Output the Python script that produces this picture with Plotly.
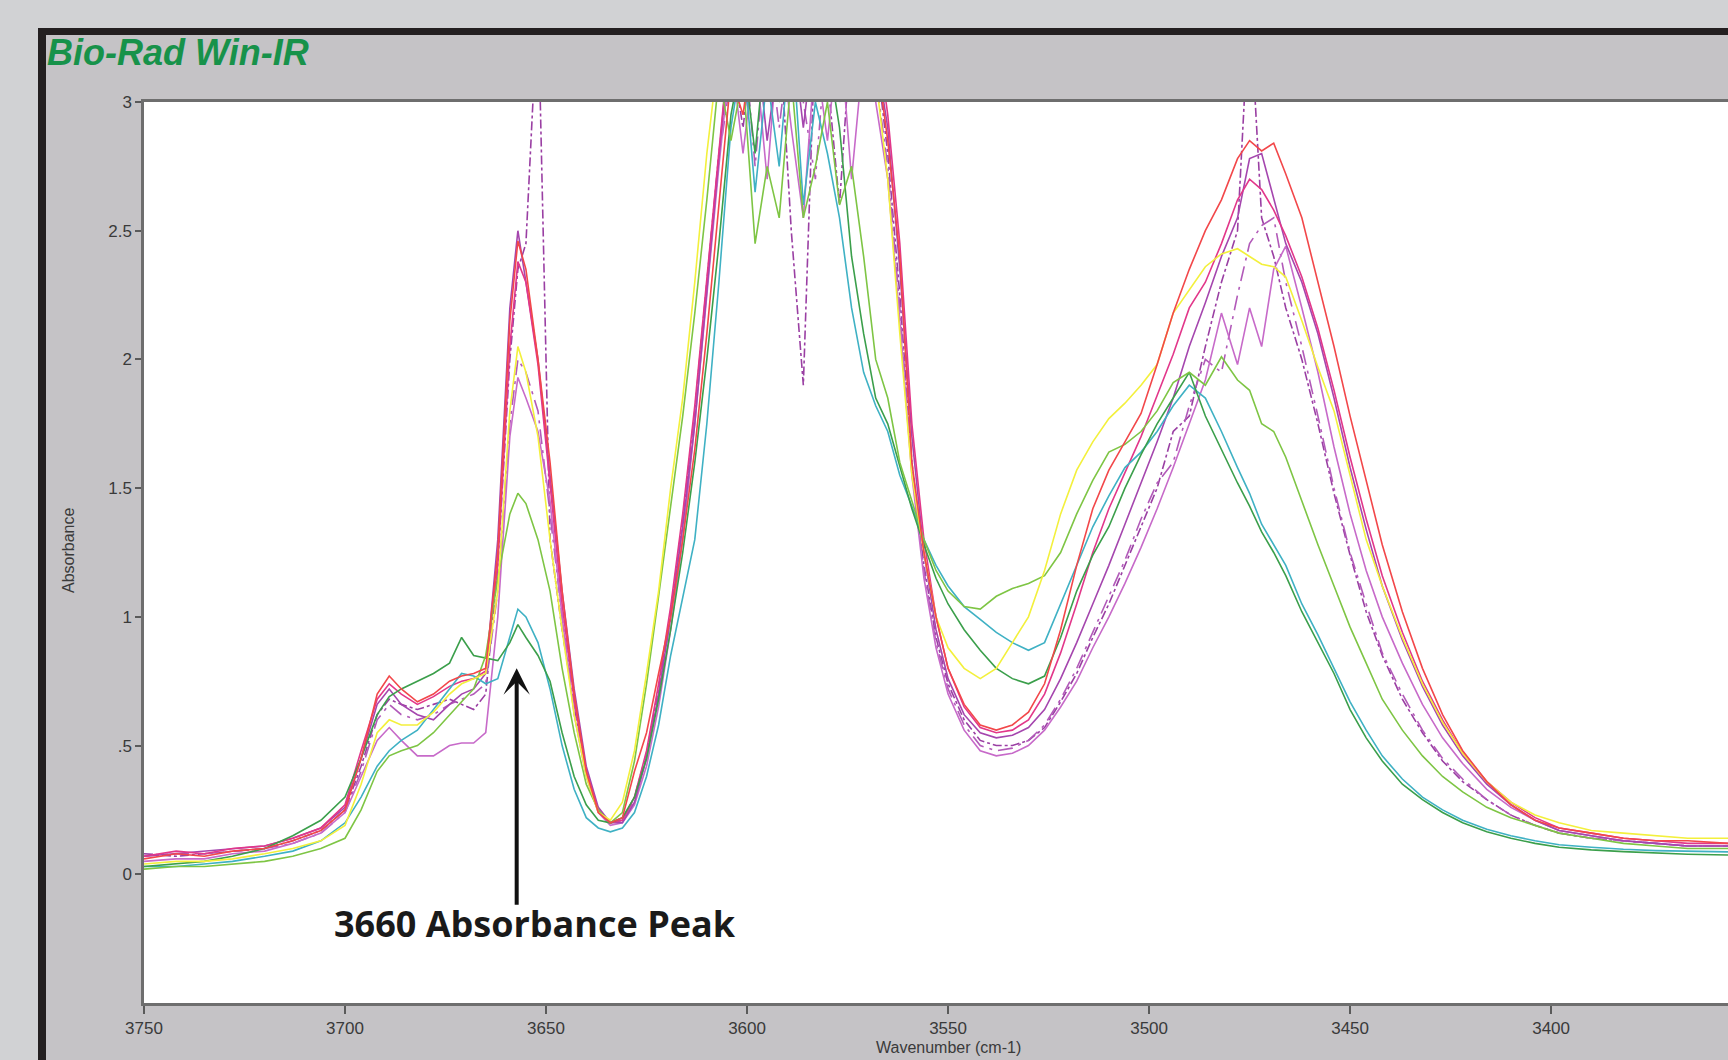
import plotly.graph_objects as go

# ---------------- data ----------------
wavenumber = [3750, 3742, 3735, 3728, 3720, 3713, 3706, 3700,
              3696, 3692, 3689, 3686, 3682, 3678, 3674, 3671, 3668, 3665,
              3662, 3659, 3657, 3655, 3652, 3649, 3646, 3643, 3640, 3637,
              3634, 3631, 3628, 3625, 3622, 3619, 3616, 3613, 3610, 3607,
              3604, 3601, 3598, 3595, 3592, 3589, 3586, 3583, 3580, 3577,
              3574, 3571, 3568, 3565, 3562, 3559, 3556, 3553, 3550, 3546,
              3542, 3538, 3534, 3530, 3526, 3522, 3518, 3514, 3510, 3506,
              3502, 3498, 3494, 3490, 3486, 3482, 3478, 3475, 3472, 3469,
              3466, 3462, 3458, 3454, 3450, 3446, 3442, 3437, 3432, 3427,
              3422, 3416, 3410, 3404, 3398, 3390, 3382, 3374, 3366, 3356]

red = [0.06, 0.08, 0.07, 0.09, 0.10, 0.13, 0.17, 0.25,
       0.45, 0.70, 0.77, 0.72, 0.67, 0.70, 0.75, 0.77, 0.78, 0.80,
       1.25, 2.15, 2.46, 2.35, 2.00, 1.60, 1.10, 0.70, 0.40, 0.24,
       0.20, 0.22, 0.40, 0.55, 0.78, 1.00, 1.30, 1.65, 2.10, 2.60,
       3.10, 2.95, 3.30, 3.10, 3.30, 3.20, 3.30, 3.10, 3.30, 3.20,
       3.30, 3.20, 3.20, 2.85, 2.40, 1.60, 1.25, 1.00, 0.80, 0.66,
       0.58, 0.56, 0.58, 0.63, 0.74, 0.95, 1.20, 1.42, 1.57, 1.68,
       1.79, 1.98, 2.18, 2.35, 2.50, 2.62, 2.78, 2.85, 2.81, 2.84,
       2.72, 2.55, 2.30, 2.05, 1.78, 1.53, 1.28, 1.02, 0.80, 0.62,
       0.48, 0.36, 0.27, 0.21, 0.18, 0.16, 0.14, 0.13, 0.13, 0.12]

yellow = [0.04, 0.05, 0.05, 0.06, 0.08, 0.10, 0.13, 0.19,
          0.35, 0.55, 0.60, 0.58, 0.58, 0.63, 0.70, 0.74, 0.76, 0.78,
          1.10, 1.80, 2.05, 1.95, 1.70, 1.30, 0.95, 0.62, 0.38, 0.24,
          0.21, 0.28, 0.48, 0.78, 1.10, 1.50, 1.85, 2.30, 2.80, 3.20,
          3.30, 3.20, 3.30, 3.20, 3.30, 3.30, 3.20, 3.30, 3.20, 3.30,
          3.20, 3.30, 3.10, 2.70, 2.10, 1.55, 1.25, 1.00, 0.88, 0.80,
          0.76, 0.80, 0.90, 1.00, 1.18, 1.40, 1.57, 1.68, 1.77, 1.83,
          1.90, 1.98, 2.18, 2.27, 2.36, 2.41, 2.43, 2.40, 2.37, 2.36,
          2.32, 2.15, 1.97, 1.80, 1.55, 1.30, 1.12, 0.92, 0.74, 0.59,
          0.47, 0.36, 0.28, 0.23, 0.20, 0.17, 0.16, 0.15, 0.14, 0.14]

light_green = [0.02, 0.03, 0.03, 0.04, 0.05, 0.07, 0.10, 0.14,
               0.25, 0.40, 0.46, 0.48, 0.50, 0.55, 0.62, 0.67, 0.72, 0.85,
               1.15, 1.40, 1.48, 1.44, 1.30, 1.10, 0.80, 0.55, 0.35, 0.25,
               0.20, 0.24, 0.44, 0.74, 1.08, 1.42, 1.78, 2.18, 2.62, 3.10,
               2.85, 3.10, 2.45, 2.75, 2.55, 3.10, 2.55, 2.75, 3.00, 2.60,
               2.75, 2.40, 2.00, 1.85, 1.60, 1.45, 1.30, 1.18, 1.10, 1.04,
               1.03, 1.08, 1.11, 1.13, 1.16, 1.25, 1.40, 1.53, 1.64, 1.67,
               1.72, 1.80, 1.91, 1.95, 1.90, 2.01, 1.92, 1.88, 1.75, 1.72,
               1.62, 1.45, 1.28, 1.12, 0.96, 0.82, 0.68, 0.56, 0.46, 0.38,
               0.32, 0.26, 0.22, 0.19, 0.16, 0.14, 0.12, 0.11, 0.10, 0.10]

dark_green = [0.03, 0.04, 0.05, 0.07, 0.10, 0.15, 0.21, 0.30,
              0.45, 0.62, 0.69, 0.72, 0.75, 0.78, 0.82, 0.92, 0.85, 0.84,
              0.83, 0.90, 0.97, 0.92, 0.85, 0.75, 0.55, 0.38, 0.27, 0.21,
              0.20, 0.22, 0.30, 0.45, 0.68, 0.95, 1.25, 1.60, 2.00, 2.45,
              2.95, 3.20, 2.80, 3.30, 3.00, 3.20, 3.30, 3.10, 3.20, 2.90,
              2.40, 2.10, 1.85, 1.75, 1.58, 1.42, 1.28, 1.15, 1.05, 0.95,
              0.87, 0.80, 0.76, 0.74, 0.77, 0.92, 1.10, 1.24, 1.35, 1.50,
              1.63, 1.75, 1.85, 1.95, 1.78, 1.65, 1.52, 1.43, 1.33, 1.25,
              1.16, 1.02, 0.90, 0.78, 0.64, 0.53, 0.44, 0.35, 0.29, 0.24,
              0.20, 0.165, 0.14, 0.12, 0.105, 0.095, 0.088, 0.082, 0.078, 0.075]

teal = [0.03, 0.03, 0.04, 0.05, 0.07, 0.09, 0.13, 0.20,
        0.30, 0.42, 0.48, 0.52, 0.56, 0.64, 0.72, 0.78, 0.77, 0.74,
        0.76, 0.92, 1.03, 1.00, 0.90, 0.72, 0.50, 0.33, 0.22, 0.18,
        0.165, 0.18, 0.24, 0.38, 0.58, 0.85, 1.08, 1.30, 1.75, 2.30,
        2.90, 3.20, 2.65, 3.10, 2.75, 3.30, 2.60, 3.00, 2.80, 2.55,
        2.20, 1.95, 1.82, 1.72, 1.55, 1.43, 1.30, 1.20, 1.12, 1.04,
        0.99, 0.94, 0.90, 0.87, 0.90, 1.05, 1.20, 1.35, 1.47, 1.58,
        1.64, 1.72, 1.82, 1.90, 1.85, 1.72, 1.58, 1.48, 1.36, 1.28,
        1.20, 1.05, 0.93, 0.80, 0.67, 0.56, 0.46, 0.37, 0.30, 0.25,
        0.21, 0.175, 0.15, 0.13, 0.115, 0.105, 0.097, 0.092, 0.089, 0.087]

orchid = [0.05, 0.06, 0.06, 0.08, 0.09, 0.12, 0.16, 0.24,
          0.38, 0.52, 0.57, 0.52, 0.46, 0.46, 0.50, 0.51, 0.51, 0.55,
          1.00, 1.70, 1.93, 1.85, 1.72, 1.45, 1.00, 0.62, 0.38, 0.24,
          0.19, 0.20, 0.27, 0.42, 0.65, 0.95, 1.30, 1.75, 2.25, 2.75,
          3.20, 2.80, 3.20, 2.70, 3.30, 2.90, 2.55, 3.20, 2.85, 3.30,
          2.70, 3.20, 3.00, 2.70, 2.15, 1.55, 1.15, 0.88, 0.70, 0.56,
          0.48, 0.46, 0.47, 0.50, 0.56, 0.65, 0.75, 0.88, 1.00, 1.13,
          1.27, 1.42, 1.58, 1.75, 1.92, 2.18, 1.98, 2.20, 2.05, 2.35,
          2.44, 2.20, 1.95, 1.66, 1.40, 1.18, 1.00, 0.82, 0.66, 0.53,
          0.43, 0.33, 0.26, 0.21, 0.17, 0.15, 0.13, 0.12, 0.11, 0.11]

purple = [0.07, 0.08, 0.09, 0.10, 0.11, 0.14, 0.18, 0.26,
          0.45, 0.66, 0.72, 0.66, 0.62, 0.60, 0.66, 0.70, 0.72, 0.78,
          1.30, 2.20, 2.50, 2.30, 2.00, 1.55, 1.10, 0.72, 0.42, 0.26,
          0.20, 0.20, 0.28, 0.45, 0.70, 1.00, 1.35, 1.75, 2.25, 2.75,
          3.30, 3.10, 3.30, 2.85, 3.20, 3.30, 2.90, 3.30, 3.00, 3.30,
          3.10, 3.30, 3.20, 2.90, 2.35, 1.70, 1.25, 0.95, 0.76, 0.62,
          0.55, 0.53, 0.54, 0.57, 0.64, 0.76, 0.90, 1.05, 1.20, 1.36,
          1.52, 1.68, 1.85, 2.05, 2.22, 2.40, 2.55, 2.78, 2.80, 2.62,
          2.45, 2.30, 2.10, 1.85, 1.58, 1.34, 1.12, 0.91, 0.73, 0.58,
          0.46, 0.35, 0.27, 0.21, 0.17, 0.15, 0.13, 0.12, 0.11, 0.11]

purple_dashdot = [0.08, 0.07, 0.08, 0.09, 0.10, 0.13, 0.17, 0.25,
                  0.42, 0.62, 0.68, 0.66, 0.64, 0.66, 0.68, 0.66, 0.64, 0.70,
                  1.20, 2.00, 2.35, 2.45, 3.40, 1.30, 0.95, 0.65, 0.40, 0.25,
                  0.20, 0.21, 0.30, 0.47, 0.72, 1.02, 1.38, 1.80, 2.30, 2.80,
                  3.20, 2.90, 3.30, 3.00, 3.30, 2.50, 1.90, 3.30, 3.10, 2.60,
                  3.30, 3.10, 3.20, 2.80, 2.25, 1.60, 1.20, 0.92, 0.74, 0.60,
                  0.52, 0.50, 0.50, 0.52, 0.57, 0.67, 0.78, 0.92, 1.05, 1.20,
                  1.35, 1.50, 1.72, 1.78, 2.05, 2.30, 2.50, 3.40, 2.55, 2.40,
                  2.20, 2.00, 1.75, 1.48, 1.24, 1.02, 0.85, 0.68, 0.55, 0.44,
                  0.36, 0.29, 0.23, 0.19, 0.16, 0.14, 0.13, 0.12, 0.11, 0.11]

violet_dashdot = [0.07, 0.08, 0.08, 0.09, 0.10, 0.12, 0.16, 0.24,
                  0.40, 0.60, 0.66, 0.62, 0.60, 0.62, 0.66, 0.68, 0.70, 0.74,
                  1.10, 1.75, 2.00, 1.95, 1.80, 1.40, 1.00, 0.66, 0.40, 0.25,
                  0.20, 0.21, 0.29, 0.46, 0.70, 1.00, 1.36, 1.78, 2.28, 2.78,
                  3.10, 3.30, 2.75, 3.30, 2.90, 3.30, 3.00, 2.70, 3.30, 3.00,
                  3.20, 3.30, 3.10, 2.75, 2.20, 1.58, 1.18, 0.90, 0.72, 0.58,
                  0.50, 0.48, 0.49, 0.52, 0.58, 0.68, 0.80, 0.94, 1.08, 1.22,
                  1.38, 1.52, 1.60, 1.82, 2.00, 1.95, 2.25, 2.45, 2.52, 2.55,
                  2.30, 2.05, 1.78, 1.50, 1.25, 1.05, 0.86, 0.70, 0.56, 0.45,
                  0.37, 0.29, 0.23, 0.19, 0.16, 0.14, 0.13, 0.12, 0.11, 0.11]

hot_pink = [0.07, 0.09, 0.08, 0.10, 0.11, 0.14, 0.18, 0.27,
            0.48, 0.68, 0.74, 0.70, 0.66, 0.69, 0.73, 0.75, 0.76, 0.79,
            1.20, 2.05, 2.38, 2.30, 1.98, 1.52, 1.05, 0.68, 0.40, 0.25,
            0.20, 0.21, 0.30, 0.48, 0.74, 1.04, 1.40, 1.82, 2.32, 2.82,
            3.30, 3.20, 3.30, 3.10, 3.30, 3.20, 3.30, 3.20, 3.30, 3.20,
            3.30, 3.20, 3.30, 2.95, 2.45, 1.75, 1.30, 1.00, 0.80, 0.65,
            0.57, 0.55, 0.56, 0.60, 0.70, 0.86, 1.05, 1.25, 1.42, 1.56,
            1.70, 1.86, 2.02, 2.20, 2.30, 2.45, 2.62, 2.70, 2.66, 2.58,
            2.48, 2.32, 2.12, 1.88, 1.62, 1.38, 1.16, 0.94, 0.75, 0.60,
            0.47, 0.36, 0.28, 0.22, 0.18, 0.16, 0.14, 0.13, 0.12, 0.12]

x_tick_values = [3750, 3700, 3650, 3600, 3550, 3500, 3450, 3400]
x_tick_labels = ["3750", "3700", "3650", "3600", "3550", "3500", "3450", "3400"]
y_tick_values = [0, 0.5, 1, 1.5, 2, 2.5, 3]
y_tick_labels = ["0", ".5", "1", "1.5", "2", "2.5", "3"]

peak_wavenumber = 3657.3
arrow_tip = 0.80
arrow_tail = -0.124

# ---------------- figure ----------------
W, H = 1728, 1060
L, R, T, B = 144, 1728, 102, 1003


def fx(px):
    return (px - L) / (R - L)


def fy(py):
    return (B - py) / (B - T)


series = [
    ("Spectrum 1", purple_dashdot, "#9a3fa3", "dashdot"),
    ("Spectrum 2", violet_dashdot, "#b25ab9", "longdashdot"),
    ("Spectrum 3", orchid, "#c76ac9", "solid"),
    ("Spectrum 4", purple, "#a546ae", "solid"),
    ("Spectrum 5", hot_pink, "#e2378a", "solid"),
    ("Spectrum 6", teal, "#3fb1c4", "solid"),
    ("Spectrum 7", dark_green, "#3b9f4b", "solid"),
    ("Spectrum 8", light_green, "#7ec544", "solid"),
    ("Spectrum 9", yellow, "#f3f03c", "solid"),
    ("Spectrum 10", red, "#f2474a", "solid"),
]

fig = go.Figure()
for name, vals, color, dash in series:
    fig.add_trace(go.Scatter(x=wavenumber, y=vals, mode="lines", name=name,
                             line=dict(color=color, width=1.6, dash=dash),
                             hoverinfo="skip"))

tick_font = dict(family="Liberation Sans, Arial, sans-serif", size=17, color="#3a3a3a")

fig.update_layout(
    width=W, height=H,
    margin=dict(l=L, r=W - R, t=T, b=H - B, pad=0),
    paper_bgcolor="#c5c3c6",
    plot_bgcolor="#ffffff",
    showlegend=False,
    xaxis=dict(range=[3750, 3356], tickvals=x_tick_values, ticktext=x_tick_labels,
               ticks="outside", ticklen=8, tickwidth=2, tickcolor="#5a5a5a",
               showline=True, linecolor="#6e6e6e", linewidth=2.5, mirror=True,
               showgrid=False, zeroline=False, tickfont=tick_font),
    yaxis=dict(range=[-0.5, 3], tickvals=y_tick_values, ticktext=y_tick_labels,
               ticks="outside", ticklen=6, tickwidth=2, tickcolor="#5a5a5a",
               showline=True, linecolor="#6e6e6e", linewidth=2.5, mirror=False,
               showgrid=False, zeroline=False, tickfont=tick_font),
)

shapes = [
    # outer light-grey page strips
    dict(type="rect", xref="paper", yref="paper", x0=fx(0), x1=fx(38), y0=fy(1060), y1=fy(0),
         fillcolor="#d1d2d4", line=dict(width=0)),
    dict(type="rect", xref="paper", yref="paper", x0=fx(0), x1=fx(1728), y0=fy(28), y1=fy(0),
         fillcolor="#d1d2d4", line=dict(width=0)),
    # black window frame
    dict(type="rect", xref="paper", yref="paper", x0=fx(38), x1=fx(46), y0=fy(1060), y1=fy(28),
         fillcolor="#231f20", line=dict(width=0)),
    dict(type="rect", xref="paper", yref="paper", x0=fx(38), x1=fx(1728), y0=fy(35), y1=fy(28),
         fillcolor="#231f20", line=dict(width=0)),
]
fig.update_layout(shapes=shapes)

annotations = [
    dict(text="Bio-Rad Win-IR", xref="paper", yref="paper", x=fx(45), y=fy(52),
         xanchor="left", yanchor="middle", showarrow=False,
         font=dict(family="Liberation Sans, Arial, sans-serif", size=36, color="#17924a",
                   weight="bold", style="italic")),
    dict(text="Absorbance", xref="paper", yref="paper", x=fx(68), y=fy(551),
         xanchor="center", yanchor="middle", textangle=-90, showarrow=False,
         font=dict(family="Liberation Sans, Arial, sans-serif", size=16, color="#3a3a3a")),
    dict(text="Wavenumber (cm-1)", xref="paper", yref="paper", x=fx(948), y=fy(1047),
         xanchor="center", yanchor="middle", showarrow=False,
         font=dict(family="Liberation Sans, Arial, sans-serif", size=16, color="#3a3a3a")),
    dict(text="", x=peak_wavenumber, y=arrow_tip, xref="x", yref="y",
         ax=peak_wavenumber, ay=arrow_tail, axref="x", ayref="y",
         showarrow=True, arrowhead=3, arrowsize=1.1, arrowwidth=4, arrowcolor="#111111"),
    dict(text="3660 Absorbance Peak", xref="paper", yref="paper", x=fx(535), y=fy(923),
         xanchor="center", yanchor="middle", showarrow=False,
         font=dict(family="Open Sans, sans-serif", size=36, color="#1a1a1a", weight="bold")),
]
fig.update_layout(annotations=annotations)

fig.write_html("out.html", config={"displayModeBar": False},
               post_script="document.body.style.margin='0';document.body.style.overflow='hidden';")
